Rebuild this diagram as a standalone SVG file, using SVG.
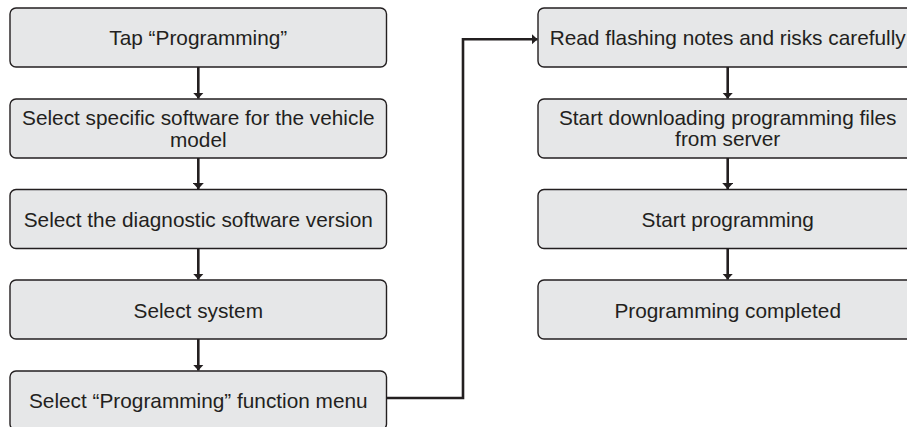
<svg xmlns="http://www.w3.org/2000/svg" width="907" height="427" viewBox="0 0 907 427">
<style>
.box{fill:#e6e7e8;stroke:#231f20;stroke-width:1.4}
.t{font-family:"Liberation Sans",Arial,sans-serif;font-size:20.8px;fill:#231f20;text-anchor:middle}
.c{fill:none;stroke:#231f20;stroke-width:2.6}
</style>
<defs>
<marker id="ah" viewBox="0 0 6 11" refX="6" refY="5.5" markerUnits="userSpaceOnUse" markerWidth="6" markerHeight="11" orient="auto">
<path d="M0,0 L6,5.5 L0,11 Z" fill="#231f20"/>
</marker>
</defs>
<rect width="907" height="427" fill="#ffffff"/>
<g id="n1"><rect class="box" x="10" y="8" width="376.5" height="59" rx="6"/><text class="t" x="198.3" y="45">Tap “Programming”</text></g>
<g id="n2"><rect class="box" x="10" y="99" width="376.5" height="59" rx="6"/><text class="t" x="198.3" y="125">Select specific software for the vehicle</text><text class="t" x="198.3" y="147">model</text></g>
<g id="n3"><rect class="box" x="10" y="189.5" width="376.5" height="59" rx="6"/><text class="t" x="198.3" y="227">Select the diagnostic software version</text></g>
<g id="n4"><rect class="box" x="10" y="280" width="376.5" height="59" rx="6"/><text class="t" x="198.3" y="317.5">Select system</text></g>
<g id="n5"><rect class="box" x="10" y="371" width="376.5" height="59" rx="6"/><text class="t" x="198.3" y="408">Select “Programming” function menu</text></g>
<g id="n6"><rect class="box" x="538" y="8" width="380" height="59" rx="6"/><text class="t" x="727.7" y="45">Read flashing notes and risks carefully</text></g>
<g id="n7"><rect class="box" x="538" y="99" width="380" height="59" rx="6"/><text class="t" x="727.7" y="124.5">Start downloading programming files</text><text class="t" x="727.7" y="146">from server</text></g>
<g id="n8"><rect class="box" x="538" y="189.5" width="380" height="59" rx="6"/><text class="t" x="727.7" y="227">Start programming</text></g>
<g id="n9"><rect class="box" x="538" y="280" width="380" height="59" rx="6"/><text class="t" x="727.7" y="317.5">Programming completed</text></g>
<g id="connectors">
<path class="c" d="M198.3,67 V98.5" marker-end="url(#ah)"/>
<path class="c" d="M198.3,158 V189" marker-end="url(#ah)"/>
<path class="c" d="M198.3,248.5 V279.5" marker-end="url(#ah)"/>
<path class="c" d="M198.3,339 V370.5" marker-end="url(#ah)"/>
<path class="c" d="M727.7,67 V98.5" marker-end="url(#ah)"/>
<path class="c" d="M727.7,158 V189" marker-end="url(#ah)"/>
<path class="c" d="M727.7,248.5 V279.5" marker-end="url(#ah)"/>
<path class="c" d="M386.5,398 H463 V39.3 H537.5" marker-end="url(#ah)"/>
</g>
</svg>
